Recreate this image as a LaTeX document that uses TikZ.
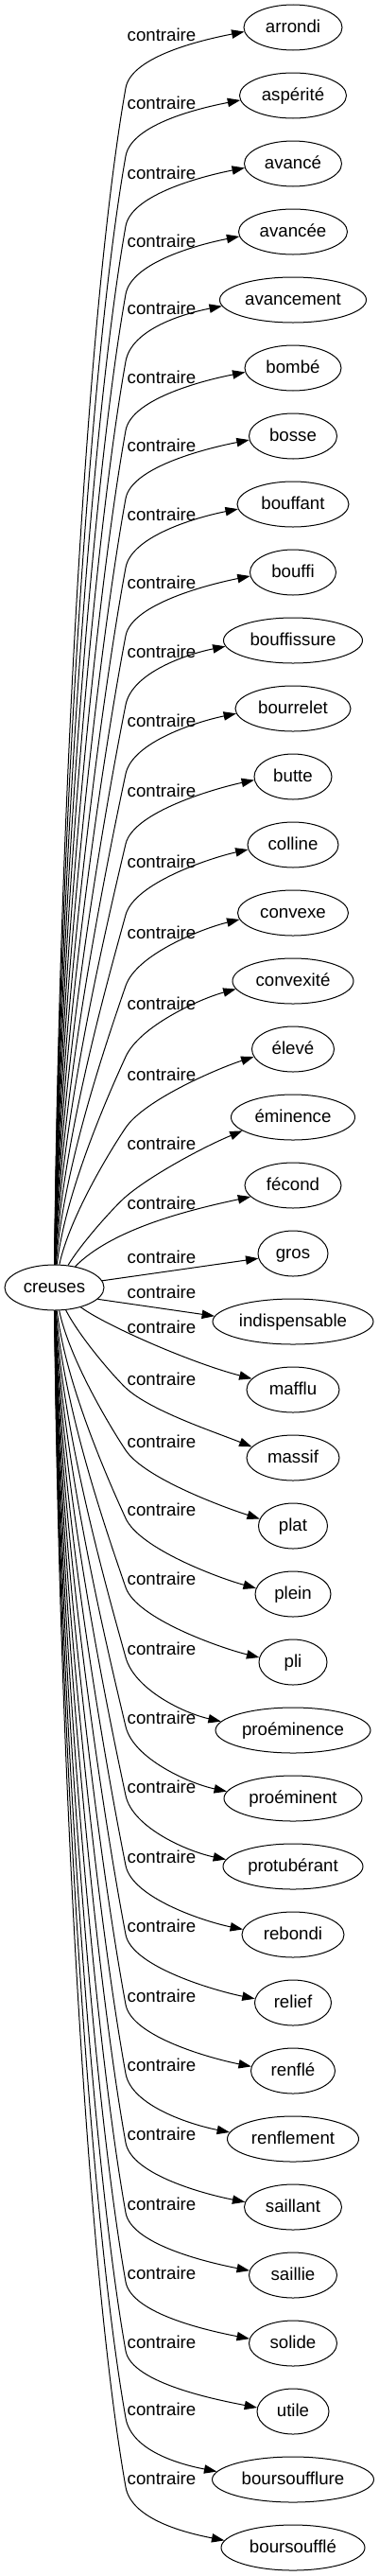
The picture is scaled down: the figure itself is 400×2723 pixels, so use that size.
\documentclass[tikz,border=0pt]{standalone}
\usepackage{fontspec}
\setmainfont{Liberation Sans}
\usetikzlibrary{arrows.meta,shapes.geometric,calc}
\begin{document}
\begin{tikzpicture}[x=0.75pt,y=-0.75pt,
  every node/.style={font=\fontsize{14pt}{16pt}\selectfont, text height=11pt, text depth=3pt},
  tnode/.style={draw, ellipse, minimum height=36pt, inner sep=0pt, line width=0.75pt},
  lbl/.style={inner sep=0pt},
  link/.style={line width=0.75pt, -{Triangle[length=10pt,width=7pt]}}]
\useasboundingbox (0,0) rectangle (400,2723);
\node[tnode, minimum width=78.75pt] (c) at (57.5,1361) {creuses};
% upper targets
\foreach \i/\off/\ww/\txt in {0/9/104/arrondi,1/9/113/aspérité,2/11/103/avancé,3/11/115/avancée,4/10/155/avancement,5/11/102/bombé,6/11/93/bosse,7/12/118/bouffant,8/12/91/bouffi,9/13/147/bouffissure,10/14/122/bourrelet,11/16/82/butte,12/19/96/colline,13/22/117/convexe,14/25/128/convexité,15/28/87/élevé,16/29/131/éminence,17/20/102/fécond,18/5/74/gros}{
  \pgfmathsetmacro\yt{29+72*\i}
  \pgfmathsetmacro\ly{\yt+\off}
  \node[tnode, minimum width=\ww*0.75pt] (u\i) at (310,\yt) {\txt};
  \node[lbl] (lu\i) at (171,\ly) {contraire};
  \ifnum\i<17
    \pgfmathsetmacro\yk{\ly+55}
    \pgfmathsetmacro\dd{1337-\yk}
    \pgfmathsetmacro\wf{exp(-(\dd-77)/150)}
    \pgfmathsetmacro\tha{80-38*\wf}
    \pgfmathtruncatemacro\an{180+(5+10*\wf)}
    \pgfmathsetmacro\gy{40*tan(11+11*\wf)}
    \pgfmathsetmacro\xa{60+2000/\dd}
    \pgfmathsetmacro\ya{1337-0.35*\dd}
    \pgfmathsetmacro\xb{133-0.2*\dd*cos(\tha)}
    \pgfmathsetmacro\yb{\yk+0.2*\dd*sin(\tha)}
    \pgfmathsetmacro\xc{133+35*cos(\tha)}
    \pgfmathsetmacro\yc{\yk-35*sin(\tha)}
    \draw[link] (c) .. controls (\xa,\ya) and (\xb,\yb) .. (133,\yk) .. controls (\xc,\yc) and ($(u\i.\an)+(-40,\gy)$) .. (u\i.\an);
  \fi
}
% lower targets
\foreach \j/\off/\ww/\txt in {0/-30/170/indispensable,1/-65/98/mafflu,2/-82/98/massif,3/-88/73/plat,4/-88/80/plein,5/-87/72/pli,6/-85/164/proéminence,7/-84/146/proéminent,8/-83/148/protubérant,9/-81/108/rebondi,10/-80/81/relief,11/-78/89/renflé,12/-77/139/renflement,13/-76/103/saillant,14/-74/93/saillie,15/-73/93/solide,16/-72/76/utile,17/-73/171/boursoufflure,18/-72/152/boursoufflé}{
  \pgfmathsetmacro\yt{1397+72*\j}
  \pgfmathsetmacro\ly{\yt+(\off)}
  \node[tnode, minimum width=\ww*0.75pt] (d\j) at (310,\yt) {\txt};
  \node[lbl] (ld\j) at (171,\ly) {contraire};
  \ifnum\j>1
    \pgfmathsetmacro\yk{\ly+8}
    \pgfmathsetmacro\dd{\yk-1385}
    \pgfmathsetmacro\wf{exp(-(\dd-77)/150)}
    \pgfmathsetmacro\tha{80-38*\wf}
    \pgfmathtruncatemacro\an{180-(5+10*\wf)}
    \pgfmathsetmacro\gy{40*tan(11+11*\wf)}
    \pgfmathsetmacro\xa{60+2000/\dd}
    \pgfmathsetmacro\ya{1385+0.35*\dd}
    \pgfmathsetmacro\xb{133-0.2*\dd*cos(\tha)}
    \pgfmathsetmacro\yb{\yk-0.2*\dd*sin(\tha)}
    \pgfmathsetmacro\xc{133+35*cos(\tha)}
    \pgfmathsetmacro\yc{\yk+35*sin(\tha)}
    \draw[link] (c) .. controls (\xa,\ya) and (\xb,\yb) .. (133,\yk) .. controls (\xc,\yc) and ($(d\j.\an)+(-40,-\gy)$) .. (d\j.\an);
  \fi
}
% special near edges
\draw[link] (c) .. controls (118,1300) and (195,1280) .. (u17.195);
\draw[link] (c) -- (u18);
\draw[link] (c.345) -- (d0.176);
\draw[link] (c) .. controls (110,1400) and (200,1440) .. (d1.165);
\end{tikzpicture}
\end{document}
